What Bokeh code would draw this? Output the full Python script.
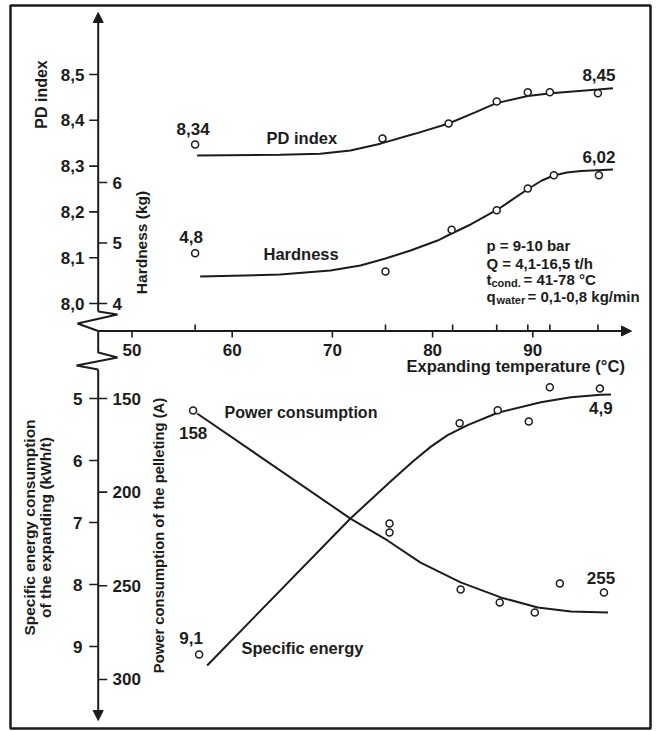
import numpy as np
from bokeh.plotting import figure
from bokeh.models import Range1d, Arrow, NormalHead
from bokeh.core.properties import value
from bokeh.embed import file_html
from bokeh.resources import INLINE

# ---------------- data ----------------
temp_ticks = [50, 60, 70, 80, 90]
temp_tick_labels = ["50", "60", "70", "80", "90"]
temp_measured = [56.3, 75.3, 82.0, 86.4, 89.5, 91.7, 96.5]

pd_ticks = [8.0, 8.1, 8.2, 8.3, 8.4, 8.5]
pd_tick_labels = ["8,0", "8,1", "8,2", "8,3", "8,4", "8,5"]
hard_ticks = [4, 5, 6]
hard_tick_labels = ["4", "5", "6"]
energy_ticks = [5, 6, 7, 8, 9]
energy_tick_labels = ["5", "6", "7", "8", "9"]
power_ticks = [150, 200, 250, 300]
power_tick_labels = ["150", "200", "250", "300"]

# PD index (left upper scale)
pd_temp = [56.3, 75.0, 81.6, 86.4, 89.5, 91.7, 96.5]
pd_vals = [8.347, 8.360, 8.393, 8.441, 8.461, 8.461, 8.459]
pd_fit_temp = [56.5, 64.8, 68.8, 71.8, 74.8, 78.3, 81.6, 84.3, 86.3, 89.5, 91.8, 96.5, 98.0]
pd_fit_vals = [8.323, 8.325, 8.327, 8.334, 8.349, 8.371, 8.393, 8.418, 8.437, 8.453, 8.459, 8.467, 8.470]
pd_end_labels = ["8,34", "8,45"]

# Hardness (kg) (right upper scale)
hard_temp = [56.3, 75.3, 81.9, 86.4, 89.5, 92.1, 96.6]
hard_vals = [4.83, 4.53, 5.22, 5.54, 5.90, 6.12, 6.12]
hard_fit_temp = [56.8, 64.8, 69.8, 72.8, 75.3, 77.8, 80.5, 81.9, 83.8, 86.5, 89.6, 90.9, 92.1, 93.4, 94.8, 98.0]
hard_fit_vals = [4.446, 4.479, 4.545, 4.628, 4.744, 4.876, 5.041, 5.157, 5.306, 5.554, 5.901, 6.033, 6.116, 6.165, 6.190, 6.215]
hard_end_labels = ["4,8", "6,02"]

# Power consumption of the pelleting (A) (right lower scale, downward)
power_temp = [56.1, 75.7, 75.7, 82.8, 86.7, 90.2, 92.7, 97.1]
power_vals = [156.4, 216.7, 221.5, 252.0, 258.9, 264.3, 248.8, 253.6]
power_fit_temp = [56.5, 71.8, 75.5, 78.8, 82.8, 86.8, 90.5, 93.8, 97.5]
power_fit_vals = [158.0, 214.1, 225.8, 237.6, 248.2, 256.2, 261.6, 263.7, 264.3]
power_end_labels = ["158", "255"]

# Specific energy consumption of the expanding (kWh/t) (left lower scale, downward)
energy_temp = [56.7, 82.7, 86.5, 89.6, 91.7, 96.7]
energy_vals = [9.13, 5.40, 5.19, 5.37, 4.82, 4.84]
energy_fit_temp = [57.5, 71.8, 75.8, 78.0, 79.8, 81.5, 83.5, 86.5, 90.8, 93.8, 96.8, 97.8]
energy_fit_vals = [9.306, 6.935, 6.340, 6.020, 5.780, 5.590, 5.430, 5.230, 5.060, 4.980, 4.940, 4.935]
energy_end_labels = ["9,1", "4,9"]

# ---------------- layout / style ----------------
W, H = 656, 730
FL, FR, FT, FB = 10, 650, 5, 728   # frame edges in page pixels
INK = "#1c1c1c"
FONT = value("Liberation Sans")

def tx(px):  # page pixel -> temperature
    return 50 + (px - 131.5) / 10.02
def pdy(py):
    return 8.5 - (py - 74) / 458.0
def hy(py):
    return 4 + (303 - py) / 60.5
def ey(py):
    return 5 + (py - 398) / 62.0
def ay(py):
    return 150 + (py - 398) / 1.873

p = figure(width=W, height=H, output_backend="svg", toolbar_location=None,
           x_axis_location=None, y_axis_location=None,
           min_border_left=FL, min_border_right=W - FR, min_border_top=FT, min_border_bottom=H - FB,
           x_range=Range1d(tx(FL), tx(FR)),
           y_range=Range1d(pdy(FB), pdy(FT)))
p.extra_y_ranges = {
    "hard": Range1d(hy(FB), hy(FT)),
    "energy": Range1d(start=ey(FB), end=ey(FT)),
    "power": Range1d(start=ay(FB), end=ay(FT)),
}
p.grid.grid_line_color = None
p.outline_line_color = INK
p.outline_line_width = 2.5
p.background_fill_color = "white"
p.border_fill_color = "white"

AX = tx(97.7)
TL = 9 / 10.02  # tick length in degrees

def txt(x, y, text, size="17px", align="left", base="middle", angle=0, rng="default", style="bold", **kw):
    p.text(x=x, y=y, text=text, text_align=align, text_baseline=base, angle=angle,
           text_font=FONT, text_font_size=size, text_font_style=style, text_color=INK,
           y_range_name=rng, **kw)

# ---- axes drawn as lines ----
head = lambda: NormalHead(size=10, fill_color=INK, line_color=INK, line_width=1)
p.add_layout(Arrow(end=head(), x_start=AX, y_start=pdy(311), x_end=AX, y_end=pdy(12),
                   line_width=2, line_color=INK))
p.line([AX, tx(117), tx(77), AX], [pdy(311), pdy(314), pdy(323), pdy(330.5)],
       line_width=2, color=INK)
p.add_layout(Arrow(end=head(), x_start=AX, y_start=pdy(330.5), x_end=tx(631), y_end=pdy(330.5),
                   line_width=2, line_color=INK))
p.line([AX, AX, tx(117), tx(76), AX], [ey(330.5), ey(352), ey(357), ey(365), ey(369)],
       line_width=2, color=INK, y_range_name="energy")
p.add_layout(Arrow(end=head(), x_start=AX, y_start=ey(369), x_end=AX, y_end=ey(720),
                   line_width=2, line_color=INK, y_range_name="energy"))

# ticks
n = len(pd_ticks)
p.segment(x0=[AX - TL] * n, x1=[AX] * n, y0=pd_ticks, y1=pd_ticks, line_width=1.6, color=INK)
n = len(hard_ticks)
p.segment(x0=[AX] * n, x1=[AX + TL] * n, y0=hard_ticks, y1=hard_ticks, line_width=1.6, color=INK,
          y_range_name="hard")
n = len(energy_ticks)
p.segment(x0=[AX - TL] * n, x1=[AX] * n, y0=energy_ticks, y1=energy_ticks, line_width=1.6, color=INK,
          y_range_name="energy")
n = len(power_ticks)
p.segment(x0=[AX] * n, x1=[AX + TL] * n, y0=power_ticks, y1=power_ticks, line_width=1.6, color=INK,
          y_range_name="power")
n = len(temp_ticks)
p.segment(x0=temp_ticks, x1=temp_ticks, y0=[pdy(330.5)] * n, y1=[pdy(337)] * n, line_width=1.6, color=INK)
n = len(temp_measured)
p.segment(x0=temp_measured, x1=temp_measured, y0=[pdy(330.5)] * n, y1=[pdy(324)] * n, line_width=1.6, color=INK)

# tick labels
txt([tx(84)] * len(pd_ticks), pd_ticks, pd_tick_labels, align="right")
txt([tx(112)] * len(hard_ticks), hard_ticks, hard_tick_labels, rng="hard")
txt([tx(82)] * len(energy_ticks), energy_ticks, energy_tick_labels, align="right", rng="energy")
txt([tx(112)] * len(power_ticks), power_ticks, power_tick_labels, rng="power")
txt(temp_ticks, [pdy(349)] * len(temp_ticks), temp_tick_labels, align="center")

# axis titles
txt([tx(40.5)], [pdy(94)], ["PD index"], size="16px", align="center", angle=np.pi / 2)
txt([tx(141)], [pdy(242)], ["Hardness (kg)"], size="15.5px", align="center", angle=np.pi / 2)
txt([tx(28.5)], [ey(527)], ["Specific energy consumption"], size="15.5px", align="center",
    angle=np.pi / 2, rng="energy")
txt([tx(45)], [ey(527)], ["of the expanding (kWh/t)"], size="15.5px", align="center",
    angle=np.pi / 2, rng="energy")
txt([tx(158)], [ey(535)], ["Power consumption of the pelleting (A)"], size="14.8px", align="center",
    angle=np.pi / 2, rng="energy")
txt([tx(406)], [pdy(365)], ["Expanding temperature (°C)"], size="16.5px")

# ---- data series ----
CIRC = dict(marker="circle", size=7, fill_color="white", line_color=INK, line_width=1.5)
p.line(pd_fit_temp, pd_fit_vals, line_width=2, color=INK)
p.scatter(pd_temp, pd_vals, **CIRC)
p.line(hard_fit_temp, hard_fit_vals, line_width=2, color=INK, y_range_name="hard")
p.scatter(hard_temp, hard_vals, y_range_name="hard", **CIRC)
p.line(power_fit_temp, power_fit_vals, line_width=2, color=INK, y_range_name="power")
p.scatter(power_temp, power_vals, y_range_name="power", **CIRC)
p.line(energy_fit_temp, energy_fit_vals, line_width=2, color=INK, y_range_name="energy")
p.scatter(energy_temp, energy_vals, y_range_name="energy", **CIRC)

# end-value labels placed next to the first and last points
txt([pd_temp[0], pd_temp[-1]], [pd_vals[0], pd_vals[-1]], pd_end_labels, align="center",
    x_offset=[-2, 1], y_offset=[-16, -18])
txt([hard_temp[0], hard_temp[-1]], [hard_vals[0], hard_vals[-1]], hard_end_labels, align="center",
    rng="hard", x_offset=[-4, 0], y_offset=[-16, -18])
txt([power_temp[0], power_temp[-1]], [power_vals[0], power_vals[-1]], power_end_labels, align="center",
    rng="power", x_offset=[0, -3], y_offset=[23, -15])
txt([energy_temp[0], energy_temp[-1]], [energy_vals[0], energy_vals[-1]], energy_end_labels, align="center",
    rng="energy", x_offset=[-8, 1], y_offset=[-17, 19])

# series names
txt([tx(266)], [pdy(137)], ["PD index"], size="16.5px")
txt([tx(263)], [pdy(253)], ["Hardness"], size="16.5px")
txt([tx(224)], [ey(412)], ["Power consumption"], size="16px", rng="energy")
txt([tx(241)], [ey(647)], ["Specific energy"], size="16.5px", rng="energy")

# experimental conditions
txt([tx(486)] * 2, [pdy(245), pdy(263)], ["p = 9-10 bar", "Q = 4,1-16,5 t/h"], size="15px")
txt([tx(486)], [pdy(279)], ["t"], size="15px")
txt([tx(491)], [pdy(282)], ["cond."], size="11px")
txt([tx(523)], [pdy(279)], ["= 41-78 °C"], size="15px")
txt([tx(486)], [pdy(296)], ["q"], size="15px")
txt([tx(496)], [pdy(299)], ["water"], size="11px")
txt([tx(527)], [pdy(296)], ["= 0,1-0,8 kg/min"], size="15px")

open("out.html", "w").write(file_html(p, INLINE))
